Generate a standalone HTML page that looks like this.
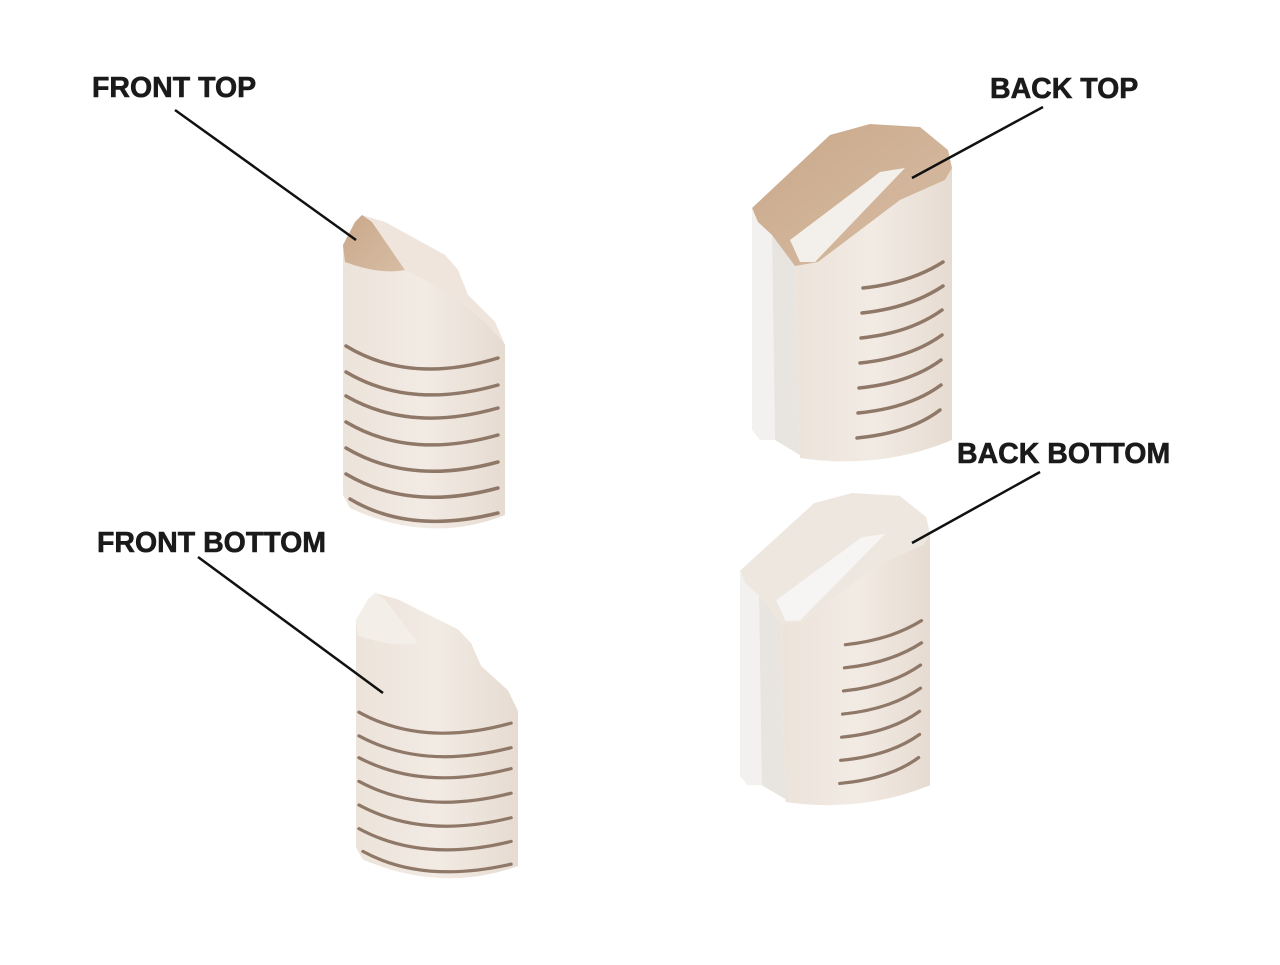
<!DOCTYPE html>
<html><head><style>
body{margin:0;background:#fff;}
.l{font-family:"Liberation Sans",sans-serif;font-weight:bold;font-size:28.5px;fill:#1a1a1a;stroke:#1a1a1a;stroke-width:0.6px}
</style></head><body>
<svg width="1280" height="960" viewBox="0 0 1280 960" xmlns="http://www.w3.org/2000/svg">
<defs>
<linearGradient id="body" x1="0" x2="1"><stop offset="0" stop-color="#ece3da"/><stop offset="0.5" stop-color="#f2ebe4"/><stop offset="1" stop-color="#e6dbd1"/></linearGradient>
<linearGradient id="tan" x1="0" x2="1" y1="0" y2="1"><stop offset="0" stop-color="#c9a88a"/><stop offset="1" stop-color="#d7bda4"/></linearGradient>
</defs>

<!-- FRONT TOP -->
<g id="ft">
<path d="M343,245 L355,222 L362,215 L385,222 L445,255 L458,270 L468,295 L495,322 L505,345 L505,515 Q430,545 350,508 L343,495 Z" fill="url(#body)"/>
<path d="M343,245 L355,222 L362,215 L372,222 L405,270 Q380,275 345,262 Z" fill="url(#tan)"/>
<path d="M405,270 L372,222 L385,222 L445,255 L458,270 L468,295 L495,322 L505,345 Q470,300 405,270Z" fill="#efe5dd"/>
<g fill="none" stroke="#8f7868" stroke-width="3.5" stroke-linecap="round">
<path d="M346,346 Q410,385 498,358"/>
<path d="M346,372 Q410,410 498,385"/>
<path d="M346,396 Q410,433 498,408"/>
<path d="M346,422 Q410,460 498,435"/>
<path d="M346,448 Q410,486 498,462"/>
<path d="M346,474 Q410,512 498,488"/>
<path d="M350,499 Q410,535 498,513"/>
</g>
</g>
<!-- FRONT BOTTOM -->
<g transform="translate(13,593) scale(1,0.91) translate(0,-215)">
<path d="M343,245 L355,222 L362,215 L385,222 L445,255 L458,270 L468,295 L495,322 L505,345 L505,515 Q430,545 350,508 L343,495 Z" fill="url(#body)"/>
<path d="M343,245 L355,222 L362,215 L372,222 L405,270 Q380,275 345,262 Z" fill="#f4eee8"/>
<g fill="none" stroke="#8f7868" stroke-width="3.5" stroke-linecap="round">
<path d="M346,346 Q410,385 498,358"/>
<path d="M346,372 Q410,410 498,385"/>
<path d="M346,396 Q410,433 498,408"/>
<path d="M346,422 Q410,460 498,435"/>
<path d="M346,448 Q410,486 498,462"/>
<path d="M346,474 Q410,512 498,488"/>
<path d="M350,499 Q410,535 498,513"/>
</g>
</g>

<!-- BACK TOP -->
<g id="bt">
<path d="M752,210 L772,235 L775,440 L760,440 L752,430 Z" fill="#f3f1ef"/>
<path d="M772,235 L795,265 L800,455 L775,440 Z" fill="#e8e4e0"/>
<path d="M795,265 L818,262 L900,200 L945,180 L952,168 L952,440 Q880,470 800,458 Z" fill="url(#body)"/>
<path d="M752,208 L830,135 L870,124 L920,127 L948,150 L952,168 L945,180 L900,200 L818,262 L795,266 L772,235 L758,222 Z" fill="url(#tan)"/>
<path d="M790,240 L880,172 L905,168 L815,262 L800,262 Z" fill="#f3efeb"/>
<g fill="none" stroke="#8f7868" stroke-width="3.5" stroke-linecap="round">
<path d="M863,288 Q910,283 943,262"/>
<path d="M862,313 Q910,308 943,286"/>
<path d="M861,338 Q910,333 942,310"/>
<path d="M860,363 Q910,358 942,335"/>
<path d="M859,388 Q910,383 941,360"/>
<path d="M858,413 Q910,408 941,385"/>
<path d="M857,438 Q910,433 940,410"/>
</g>
</g>
<!-- BACK BOTTOM -->
<g transform="translate(740,493) scale(0.95,0.925) translate(-752,-124)">
<path d="M752,210 L772,235 L775,440 L760,440 L752,430 Z" fill="#f3f1ef"/>
<path d="M772,235 L795,265 L800,455 L775,440 Z" fill="#e8e4e0"/>
<path d="M795,265 L818,262 L900,200 L945,180 L952,168 L952,440 Q880,470 800,458 Z" fill="url(#body)"/>
<path d="M752,208 L830,135 L870,124 L920,127 L948,150 L952,168 L945,180 L900,200 L818,262 L795,266 L772,235 L758,222 Z" fill="#eee7e0"/>
<path d="M790,240 L880,172 L905,168 L815,262 L800,262 Z" fill="#f7f5f3"/>
<g fill="none" stroke="#8f7868" stroke-width="3.5" stroke-linecap="round">
<path d="M863,288 Q910,283 943,262"/>
<path d="M862,313 Q910,308 943,286"/>
<path d="M861,338 Q910,333 942,310"/>
<path d="M860,363 Q910,358 942,335"/>
<path d="M859,388 Q910,383 941,360"/>
<path d="M858,413 Q910,408 941,385"/>
<path d="M857,438 Q910,433 940,410"/>
</g>
</g>

<!-- leaders -->
<g stroke="#111" stroke-width="2.5">
<line x1="175" y1="110" x2="356" y2="240"/>
<line x1="1043" y1="107" x2="912" y2="178"/>
<line x1="1040" y1="472" x2="912" y2="543"/>
<line x1="198" y1="557" x2="383" y2="693"/>
</g>
<text class="l" x="92" y="97">FRONT TOP</text>
<text class="l" x="990" y="98">BACK TOP</text>
<text class="l" x="957" y="463">BACK BOTTOM</text>
<text class="l" x="97" y="552">FRONT BOTTOM</text>
</svg>
</body></html>
